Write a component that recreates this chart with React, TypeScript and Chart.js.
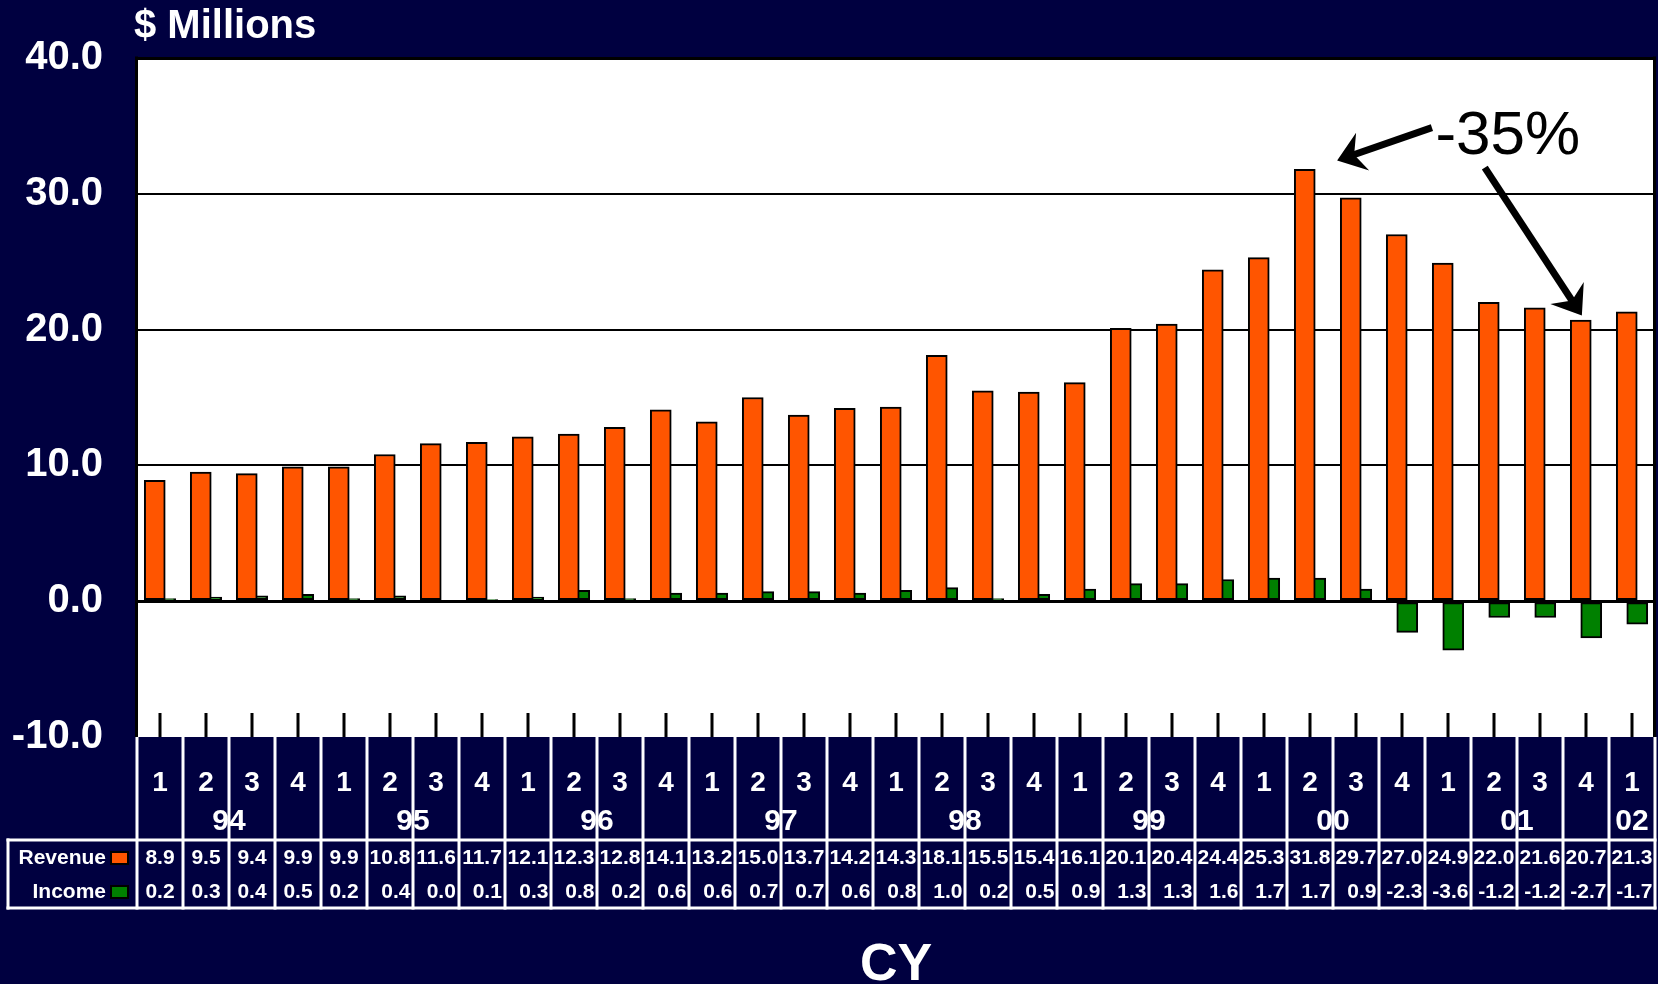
import React, { useEffect, useRef } from 'react';
import { Chart, registerables } from 'chart.js';

Chart.register(...registerables);

// ---- data ----
const quarterLabels = [
  '1', '2', '3', '4', '1', '2', '3', '4', '1', '2', '3', '4', '1', '2', '3', '4',
  '1', '2', '3', '4', '1', '2', '3', '4', '1', '2', '3', '4', '1', '2', '3', '4', '1',
];
const yearLabels = ['94', '95', '96', '97', '98', '99', '00', '01', '02'];
const revenue = [
  8.9, 9.5, 9.4, 9.9, 9.9, 10.8, 11.6, 11.7, 12.1, 12.3, 12.8, 14.1, 13.2, 15.0, 13.7, 14.2,
  14.3, 18.1, 15.5, 15.4, 16.1, 20.1, 20.4, 24.4, 25.3, 31.8, 29.7, 27.0, 24.9, 22.0, 21.6, 20.7, 21.3,
];
const income = [
  0.2, 0.3, 0.4, 0.5, 0.2, 0.4, 0.0, 0.1, 0.3, 0.8, 0.2, 0.6, 0.6, 0.7, 0.7, 0.6,
  0.8, 1.0, 0.2, 0.5, 0.9, 1.3, 1.3, 1.6, 1.7, 1.7, 0.9, -2.3, -3.6, -1.2, -1.2, -2.7, -1.7,
];
const seriesNames = ['Revenue', 'Income'];
const yMin = -10;
const yMax = 40;
const yStep = 10;
const axisTitle = '$ Millions';
const xTitle = 'CY';
const noteText = '-35%';
// annotation anchors in data coordinates (category index, value)
const noteAt = { x: 29.3, y: 34.4 };
const noteArrows = [
  { from: [27.65, 34.87], to: [25.59, 32.45] },
  { from: [28.8, 31.93], to: [30.91, 21.03] },
];

// ---- styles ----
const NAVY = '#000040';
const ORANGE = '#FF5500';
const GREEN = '#008000';
const FONT = '"Liberation Sans", Arial, Helvetica, sans-serif';
const PAIR_OFFSET = 0.114;

function drawArrow(ctx: CanvasRenderingContext2D, x1: number, y1: number, x2: number, y2: number) {
  const dx = x2 - x1;
  const dy = y2 - y1;
  const len = Math.hypot(dx, dy);
  const ux = dx / len;
  const uy = dy / len;
  const px = -uy;
  const py = ux;
  const L = 27;
  const W = 20;
  const N = 9;
  const bx = x2 - ux * L;
  const by = y2 - uy * L;
  const nx = x2 - ux * (L - N);
  const ny = y2 - uy * (L - N);
  ctx.save();
  ctx.strokeStyle = '#000';
  ctx.fillStyle = '#000';
  ctx.lineWidth = 7;
  ctx.lineCap = 'butt';
  ctx.beginPath();
  ctx.moveTo(x1, y1);
  ctx.lineTo(nx + ux * 2, ny + uy * 2);
  ctx.stroke();
  ctx.beginPath();
  ctx.moveTo(x2, y2);
  ctx.lineTo(bx + px * W, by + py * W);
  ctx.lineTo(nx, ny);
  ctx.lineTo(bx - px * W, by - py * W);
  ctx.closePath();
  ctx.fill();
  ctx.restore();
}

const tablePlugin = {
  id: 'tablePlugin',
  beforeDraw(chart: any) {
    const { ctx, chartArea: a, width, height } = chart;
    ctx.save();
    ctx.fillStyle = NAVY;
    ctx.fillRect(0, 0, width, height);
    ctx.fillStyle = '#ffffff';
    ctx.fillRect(a.left, a.top, a.right - a.left, a.bottom - a.top);
    ctx.restore();
  },
  afterDatasetsDraw(chart: any) {
    const { ctx, chartArea: a } = chart;
    const xs = chart.scales.x;
    const ys = chart.scales.y;
    const n = revenue.length;
    ctx.save();

    // plot border (left / right)
    ctx.fillStyle = '#000';
    ctx.fillRect(a.left - 2, a.top - 1.5, 3, a.bottom - a.top + 1.5);
    ctx.fillRect(a.right - 2, a.top - 1.5, 3, a.bottom - a.top + 1.5);

    // category tick marks inside plot bottom
    for (let i = 0; i < n; i++) {
      const x = xs.getPixelForValue(i);
      ctx.fillRect(Math.round(x) - 1.5, a.bottom - 24, 3, 24);
    }

    // table geometry
    const tableTop = a.bottom;
    const headBottom = tableTop + 103;
    const rowsBottom = headBottom + 68;
    const leftEdge = 8;
    const rightEdge = xs.getPixelForValue(n - 0.5);

    ctx.fillStyle = '#ffffff';
    for (let k = 0; k <= n; k++) {
      const x = xs.getPixelForValue(k - 0.5);
      ctx.fillRect(Math.round(x) - 1.5, tableTop, 3, rowsBottom - tableTop + 1.5);
    }
    ctx.fillRect(leftEdge - 1.5, headBottom - 1.5, rightEdge - leftEdge + 3, 3);
    ctx.fillRect(leftEdge - 1.5, rowsBottom - 1.5, rightEdge - leftEdge + 3, 3);
    ctx.fillRect(leftEdge - 1.5, headBottom - 1.5, 3, rowsBottom - headBottom + 3);

    // quarter labels
    ctx.fillStyle = '#ffffff';
    ctx.textAlign = 'center';
    ctx.textBaseline = 'middle';
    ctx.font = `bold 28px ${FONT}`;
    for (let i = 0; i < n; i++) {
      ctx.fillText(quarterLabels[i], xs.getPixelForValue(i), tableTop + 46);
    }
    // year labels
    ctx.font = `bold 30px ${FONT}`;
    yearLabels.forEach((yl, yi) => {
      const first = yi * 4;
      const last = Math.min(first + 3, n - 1);
      const cx = (xs.getPixelForValue(first) + xs.getPixelForValue(last)) / 2;
      ctx.fillText(yl, cx, tableTop + 85);
    });

    // values rows
    ctx.font = `bold 21px ${FONT}`;
    const revY = headBottom + 18;
    const incY = headBottom + 52;
    for (let i = 0; i < n; i++) {
      const r = revenue[i].toFixed(1);
      const m = income[i].toFixed(1);
      const w = Math.max(ctx.measureText(r).width, ctx.measureText(m).width);
      const rx = xs.getPixelForValue(i) + w / 2;
      ctx.textAlign = 'right';
      ctx.fillText(r, rx, revY);
      ctx.fillText(m, rx, incY);
    }

    // row headers with keys
    const keyX = 110;
    ctx.textAlign = 'right';
    [
      { name: seriesNames[0], y: revY, color: ORANGE },
      { name: seriesNames[1], y: incY, color: GREEN },
    ].forEach((row) => {
      ctx.fillStyle = '#ffffff';
      ctx.fillText(row.name, keyX - 4, row.y);
      ctx.fillStyle = '#000';
      ctx.fillRect(keyX, row.y - 7, 19, 14);
      ctx.fillStyle = row.color;
      ctx.fillRect(keyX + 2, row.y - 5, 15, 10);
    });

    // axis titles
    ctx.fillStyle = '#ffffff';
    ctx.textAlign = 'left';
    ctx.textBaseline = 'alphabetic';
    ctx.font = `bold 40px ${FONT}`;
    ctx.fillText(axisTitle, a.left - 3, 38);
    ctx.textAlign = 'center';
    ctx.font = `bold 52px ${FONT}`;
    ctx.fillText(xTitle, (a.left + a.right) / 2, 980);

    // annotation
    ctx.fillStyle = '#000';
    ctx.textAlign = 'center';
    ctx.textBaseline = 'middle';
    ctx.font = `62px ${FONT}`;
    ctx.fillText(noteText, xs.getPixelForValue(noteAt.x), ys.getPixelForValue(noteAt.y) + 3);
    noteArrows.forEach((ar) => {
      drawArrow(
        ctx,
        xs.getPixelForValue(ar.from[0]),
        ys.getPixelForValue(ar.from[1]),
        xs.getPixelForValue(ar.to[0]),
        ys.getPixelForValue(ar.to[1]),
      );
    });
    ctx.restore();
  },
};

export default function App() {
  const ref = useRef<HTMLCanvasElement | null>(null);
  useEffect(() => {
    document.body.style.margin = '0';
    document.body.style.background = NAVY;
    const canvas = ref.current;
    if (!canvas) return;
    const chart = new Chart(canvas, {
      type: 'bar',
      data: {
        datasets: [
          {
            label: seriesNames[0],
            data: revenue.map((v, i) => ({ x: i - PAIR_OFFSET, y: v })),
            backgroundColor: ORANGE,
            borderColor: '#000',
            borderWidth: 2,
            borderSkipped: false,
            barThickness: 21,
            grouped: false,
          },
          {
            label: seriesNames[1],
            data: income.map((v, i) => ({ x: i + PAIR_OFFSET, y: v })),
            backgroundColor: GREEN,
            borderColor: '#000',
            borderWidth: 2,
            borderSkipped: false,
            barThickness: 21,
            grouped: false,
          },
        ],
      },
      options: {
        responsive: false,
        animation: false,
        devicePixelRatio: 1,
        layout: { padding: { left: 0, right: 3, top: 58, bottom: 247 } },
        plugins: {
          legend: { display: false },
          tooltip: { enabled: false },
          title: { display: false },
        },
        scales: {
          x: {
            type: 'linear',
            min: -0.5,
            max: revenue.length - 0.5,
            offset: false,
            display: false,
          },
          y: {
            min: yMin,
            max: yMax,
            afterFit: (s: any) => {
              s.width = 137;
            },
            ticks: {
              stepSize: yStep,
              color: '#ffffff',
              padding: 34,
              font: { family: FONT, size: 40, weight: 'bold' },
              callback: (v: any) => Number(v).toFixed(1),
            },
            border: { display: false },
            grid: {
              drawTicks: false,
              color: '#000',
              lineWidth: (c: any) => (c.tick && c.tick.value === yMin ? 0 : c.tick && (c.tick.value === 0 || c.tick.value === yMax) ? 3 : 2),
            },
          },
        },
      },
      plugins: [tablePlugin],
    } as any);
    return () => chart.destroy();
  }, []);
  return <canvas ref={ref} width={1658} height={984} style={{ display: 'block' }} />;
}
